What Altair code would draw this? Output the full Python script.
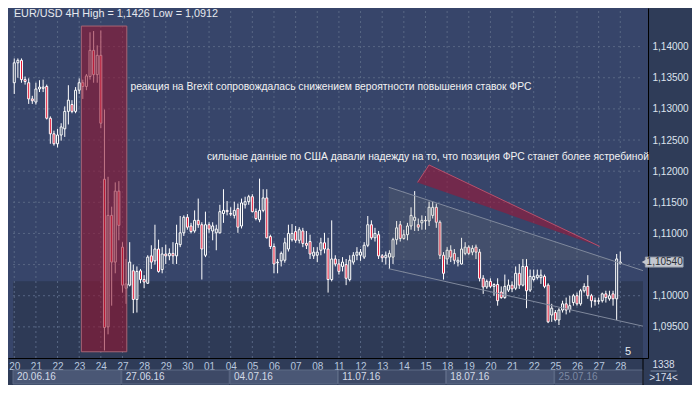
import altair as alt
import pandas as pd

# ---------------- data ----------------
DAY_LABELS = ['20', '21', '22', '23', '24', '27', '28', '29', '30', '01', '04', '05', '06', '07', '08',
              '11', '12', '13', '14', '15', '18', '19', '20', '21', '22', '25', '26', '27', '28']
WEEK_LABELS = ['20.06.16', '27.06.16', '04.07.16', '11.07.16', '18.07.16', '25.07.16']
WEEK_START = [-0.35, 29.8, 59.8, 89.8, 119.8, 149.8]
WEEK_END = [29.6, 59.6, 89.6, 119.6, 149.6, 174.3]
WEEK_SHADE = ['#4a5775', '#3d4966', '#4a5775', '#3d4966', '#4a5775', '#3d4966']
WEEK_TEXT = ['#d3dae6', '#d3dae6', '#d3dae6', '#d3dae6', '#d3dae6', '#7c88a2']
PRICE_TICKS = [1.095, 1.100, 1.105, 1.110, 1.115, 1.120, 1.125, 1.130, 1.135, 1.140]

OPEN = [1.1342, 1.1374, 1.1378, 1.1347, 1.1342, 1.1316,
        1.1311, 1.1332, 1.1333, 1.1336, 1.1285, 1.1260,
        1.1244, 1.1258, 1.1268, 1.1296, 1.1307, 1.1296,
        1.1330, 1.1342, 1.1336, 1.1352, 1.1394, 1.1355,
        1.1386, 1.1187, 1.0950, 1.1129, 1.1054, 1.1168,
        1.1078, 1.1012, 1.1017, 1.1040, 1.0994, 1.1040,
        1.1026, 1.1020, 1.1064, 1.1056, 1.1075, 1.1042,
        1.1067, 1.1064, 1.1068, 1.1064, 1.1082, 1.1101,
        1.1126, 1.1112, 1.1104, 1.1121, 1.1114, 1.1065,
        1.1114, 1.1104, 1.1101, 1.1101, 1.1132, 1.1137,
        1.1132, 1.1129, 1.1140, 1.1112, 1.1146, 1.1151,
        1.1159, 1.1135, 1.1122, 1.1137, 1.1157, 1.1095,
        1.1079, 1.1053, 1.1056, 1.1057, 1.1075, 1.1090,
        1.1103, 1.1089, 1.1104, 1.1084, 1.1087, 1.1064,
        1.1065, 1.1073, 1.1085, 1.1075, 1.1026, 1.1059,
        1.1051, 1.1047, 1.1050, 1.1026, 1.1054, 1.1065,
        1.1065, 1.1062, 1.1081, 1.1114, 1.1093, 1.1098,
        1.1064, 1.1061, 1.1062, 1.1062, 1.1090, 1.1114,
        1.1092, 1.1098, 1.1112, 1.1121, 1.1114, 1.1117,
        1.1121, 1.1120, 1.1129, 1.1142, 1.1118, 1.1065,
        1.1059, 1.1073, 1.1068, 1.1054, 1.1051, 1.1068,
        1.1078, 1.1070, 1.1078, 1.1070, 1.1028, 1.1014,
        1.1023, 1.1015, 1.1018, 1.1006, 1.0997, 1.1009,
        1.1017, 1.1012, 1.1036, 1.1017, 1.1047, 1.1009,
        1.1026, 1.1029, 1.1029, 1.1031, 1.1017, 1.0969,
        1.0973, 1.0961, 1.0977, 1.0987, 1.0978, 1.0989,
        1.1000, 1.0987, 1.1008, 1.1015, 1.1000, 1.0992,
        1.0991, 1.0992, 1.1003, 1.0995, 1.1003, 1.0995,
        1.1052]
HIGH = [1.1381, 1.1381, 1.1381, 1.1352, 1.1349, 1.1321,
        1.1342, 1.1346, 1.1347, 1.1339, 1.1288, 1.1265,
        1.1268, 1.1277, 1.1304, 1.1338, 1.1314, 1.1335,
        1.1349, 1.1347, 1.1356, 1.1423, 1.1425, 1.1402,
        1.1426, 1.1299, 1.1191, 1.1143, 1.1182, 1.1184,
        1.1086, 1.1059, 1.1086, 1.1050, 1.1047, 1.1043,
        1.1033, 1.1065, 1.1081, 1.1114, 1.1090, 1.1078,
        1.1082, 1.1076, 1.1086, 1.1114, 1.1128, 1.1129,
        1.1131, 1.1117, 1.1137, 1.1156, 1.1118, 1.1135,
        1.1118, 1.1118, 1.1114, 1.1146, 1.1171, 1.1152,
        1.1142, 1.1151, 1.1148, 1.1156, 1.1159, 1.1162,
        1.1163, 1.1140, 1.1188, 1.1171, 1.1171, 1.1098,
        1.1084, 1.1059, 1.1071, 1.1093, 1.1114, 1.1115,
        1.1112, 1.1110, 1.1109, 1.1104, 1.1098, 1.1078,
        1.1078, 1.1093, 1.1101, 1.1093, 1.1121, 1.1065,
        1.1059, 1.1062, 1.1059, 1.1065, 1.1070, 1.1078,
        1.1075, 1.1086, 1.1128, 1.1121, 1.1109, 1.1104,
        1.1067, 1.1071, 1.1073, 1.1093, 1.1120, 1.1120,
        1.1106, 1.1117, 1.1142, 1.1168, 1.1124, 1.1129,
        1.1128, 1.1151, 1.1151, 1.1148, 1.1121, 1.1070,
        1.1078, 1.1081, 1.1075, 1.1062, 1.1093, 1.1086,
        1.1081, 1.1081, 1.1082, 1.1075, 1.1033, 1.1026,
        1.1028, 1.1020, 1.1028, 1.1015, 1.1034, 1.1026,
        1.1023, 1.1047, 1.1051, 1.1059, 1.1059, 1.1042,
        1.1042, 1.1042, 1.1042, 1.1034, 1.1020, 1.0987,
        1.0977, 1.0980, 1.0992, 1.0997, 1.1000, 1.1003,
        1.1005, 1.1011, 1.1020, 1.1033, 1.1003, 1.0997,
        1.0997, 1.1005, 1.1008, 1.1008, 1.1008, 1.1067,
        1.1071]
LOW = [1.1324, 1.1350, 1.1342, 1.1339, 1.1308, 1.1308,
       1.1307, 1.1327, 1.1327, 1.1283, 1.1244, 1.1241,
       1.1238, 1.1249, 1.1255, 1.1275, 1.1293, 1.1293,
       1.1324, 1.1316, 1.1330, 1.1347, 1.1342, 1.1342,
       1.1269, 1.0912, 1.0938, 1.0984, 1.1036, 1.1089,
       1.1005, 1.0987, 1.1015, 1.0972, 1.0973, 1.1020,
       1.1012, 1.1019, 1.1043, 1.1050, 1.1037, 1.1036,
       1.1051, 1.1057, 1.1051, 1.1051, 1.1078, 1.1096,
       1.1106, 1.1100, 1.1101, 1.1109, 1.1026, 1.1062,
       1.1101, 1.1089, 1.1073, 1.1100, 1.1117, 1.1129,
       1.1128, 1.1124, 1.1101, 1.1108, 1.1140, 1.1146,
       1.1134, 1.1121, 1.1118, 1.1134, 1.1092, 1.1075,
       1.1036, 1.1036, 1.1047, 1.1053, 1.1071, 1.1087,
       1.1085, 1.1084, 1.1078, 1.1075, 1.1059, 1.1059,
       1.1054, 1.1065, 1.1068, 1.1005, 1.1023, 1.1047,
       1.1034, 1.1039, 1.1017, 1.1023, 1.1050, 1.1057,
       1.1056, 1.1059, 1.1078, 1.1090, 1.1087, 1.1059,
       1.1054, 1.1050, 1.1043, 1.1051, 1.1082, 1.1087,
       1.1090, 1.1089, 1.1106, 1.1104, 1.1104, 1.1106,
       1.1106, 1.1112, 1.1124, 1.1109, 1.1059, 1.1026,
       1.1050, 1.1054, 1.1051, 1.1047, 1.1050, 1.1065,
       1.1065, 1.1065, 1.1059, 1.1023, 1.1003, 1.1011,
       1.1012, 1.1000, 1.0984, 1.0995, 1.0995, 1.1006,
       1.1006, 1.1009, 1.1011, 1.1015, 1.0980, 1.1006,
       1.1023, 1.1026, 1.1019, 1.1012, 1.0956, 1.0958,
       1.0959, 1.0953, 1.0973, 1.0970, 1.0973, 1.0984,
       1.0984, 1.0984, 1.1005, 1.0995, 1.0981, 1.0984,
       1.0986, 1.0989, 1.0989, 1.0992, 1.0984, 1.0961,
       1.1050]
CLOSE = [1.1374, 1.1378, 1.1347, 1.1344, 1.1316, 1.1313,
         1.1332, 1.1335, 1.1335, 1.1285, 1.1260, 1.1244,
         1.1258, 1.1271, 1.1296, 1.1314, 1.1296, 1.1330,
         1.1342, 1.1336, 1.1353, 1.1394, 1.1355, 1.1386,
         1.1277, 1.0949, 1.1129, 1.1054, 1.1168, 1.1113,
         1.1017, 1.1019, 1.1054, 1.0994, 1.1039, 1.1026,
         1.1022, 1.1062, 1.1054, 1.1075, 1.1039, 1.1067,
         1.1064, 1.1068, 1.1064, 1.1084, 1.1101, 1.1126,
         1.1110, 1.1103, 1.1121, 1.1114, 1.1075, 1.1114,
         1.1107, 1.1112, 1.1107, 1.1135, 1.1137, 1.1135,
         1.1131, 1.1137, 1.1110, 1.1149, 1.1151, 1.1159,
         1.1135, 1.1124, 1.1137, 1.1157, 1.1093, 1.1079,
         1.1051, 1.1054, 1.1068, 1.1085, 1.1100, 1.1100,
         1.1089, 1.1106, 1.1084, 1.1081, 1.1067, 1.1070,
         1.1070, 1.1085, 1.1075, 1.1026, 1.1059, 1.1051,
         1.1039, 1.1054, 1.1028, 1.1057, 1.1065, 1.1070,
         1.1070, 1.1081, 1.1114, 1.1093, 1.1100, 1.1064,
         1.1061, 1.1065, 1.1068, 1.1090, 1.1109, 1.1092,
         1.1098, 1.1112, 1.1129, 1.1126, 1.1110, 1.1121,
         1.1120, 1.1142, 1.1142, 1.1118, 1.1065, 1.1036,
         1.1073, 1.1062, 1.1057, 1.1057, 1.1075, 1.1078,
         1.1068, 1.1076, 1.1070, 1.1028, 1.1014, 1.1023,
         1.1015, 1.1018, 1.0992, 1.0997, 1.1015, 1.1017,
         1.1011, 1.1036, 1.1017, 1.1047, 1.1008, 1.1031,
         1.1031, 1.1033, 1.1033, 1.1015, 1.0958, 1.0980,
         1.0961, 1.0977, 1.0987, 1.0977, 1.0984, 1.1000,
         1.0987, 1.1008, 1.1015, 1.1000, 1.0992, 1.0991,
         1.0992, 1.1003, 1.0997, 1.1000, 1.0995, 1.1059,
         1.1054]

LAST_PRICE = 1.1054
LAST_PRICE_TEXT = '1,10540'
HEADER = 'EUR/USD 4H High = 1,1426 Low = 1,0912'
NOTE_BREXIT = 'реакция на Brexit сопровождалась снижением вероятности повышения ставок ФРС'
NOTE_USA = 'сильные данные по США давали надежду на то, что позиция ФРС станет более ястребиной'
BARS_TOTAL = '1338'
BARS_VISIBLE = '>174<'
SHIFT_LABEL = '5'

# annotation geometry (bar index, price)
BREXIT_BOX = dict(x=18.6, x2=31.2, y=1.0910, y2=1.1433)
GRAY_TRI_X = [103.8, 165.5]
GRAY_TRI_TOP = [1.11742, 1.10574]
GRAY_TRI_BOTTOM = [1.10574, 1.10574]
RED_X = [111.8, 115.0, 162.3]
RED_TOP = [1.1182, 1.1210, 1.10792]
RED_BOTTOM = [1.1182, 1.11755, 1.10792]
CHANNEL_X = [103.8, 174.3]
CHANNEL_UPPER = [1.11742, 1.10403]
CHANNEL_LOWER = [1.10434, 1.09511]

X_DOMAIN = [-0.35, 174.3]
Y_DOMAIN = [1.0900, 1.1462]
W, H = 640, 350
FONT = 'Liberation Sans, Arial, sans-serif'

# ---------------- build ----------------
n = len(OPEN)
candles = pd.DataFrame({
    'x': list(range(n)), 'open': OPEN, 'high': HIGH, 'low': LOW, 'close': CLOSE,
})
candles['fillc'] = ['#35435f' if c >= o else '#e3102f' for o, c in zip(OPEN, CLOSE)]

xs = alt.Scale(domain=X_DOMAIN, nice=False, zero=False)
ys = alt.Scale(domain=Y_DOMAIN, nice=False, zero=False)
label_js = '[' + ','.join("'%s'" % d for d in DAY_LABELS) + ']'
x_axis = alt.Axis(values=[6 * k for k in range(len(DAY_LABELS))],
                  labelExpr=label_js + '[round(datum.value/6)]',
                  grid=False, ticks=False, domainColor='#000000', domainWidth=1,
                  labelColor='#b9c8df', labelFontSize=10, labelFont=FONT,
                  labelPadding=3, labelFlush=False, labelOverlap=False, title=None)
y_axis = alt.Axis(orient='right', values=PRICE_TICKS,
                  labelExpr="abs(datum.value-1.105)<0.000001 ? '' : replace(format(datum.value, '.5f'), '.', ',')",
                  grid=False, ticks=False, domainColor='#000000', domainWidth=1,
                  labelColor='#dde3ee', labelFontSize=10, labelFont=FONT,
                  labelPadding=4, labelOverlap=False, title=None)


def X(f='x'):
    return alt.X(f + ':Q', scale=xs, axis=x_axis)


def Y(f='y'):
    return alt.Y(f + ':Q', scale=ys, axis=y_axis)


band = alt.Chart(pd.DataFrame({'x': [X_DOMAIN[0]], 'x2': [X_DOMAIN[1]], 'y': [Y_DOMAIN[0]], 'y2': [1.10232]})).mark_rect(
    color='#2e3a56').encode(x=X(), x2='x2:Q', y=Y(), y2='y2:Q')

grid_x = alt.Chart(pd.DataFrame({'x': [6 * k for k in range(len(DAY_LABELS))],
                                 'y': Y_DOMAIN[0], 'y2': Y_DOMAIN[1]})).mark_rule(
    color='#586784', strokeWidth=1, strokeDash=[2, 3]).encode(x=X(), y=Y(), y2='y2:Q')
grid_y = alt.Chart(pd.DataFrame({'y': PRICE_TICKS, 'x': X_DOMAIN[0], 'x2': X_DOMAIN[1]})).mark_rule(
    color='#586784', strokeWidth=1, strokeDash=[2, 3]).encode(x=X(), x2='x2:Q', y=Y())

wicks = alt.Chart(candles).mark_rule(color='#ffffff', strokeWidth=1).encode(
    x=X(), y=Y('low'), y2='high:Q')
bodies = alt.Chart(candles).mark_bar(size=2, stroke='#ffffff', strokeWidth=1).encode(
    x=X(), y=Y('open'), y2='close:Q', fill=alt.Fill('fillc:N', scale=None))

gray_tri = alt.Chart(pd.DataFrame({'x': GRAY_TRI_X, 'y': GRAY_TRI_TOP, 'y2': GRAY_TRI_BOTTOM})).mark_area(
    color='#8f8c7c', opacity=0.15, orient='vertical').encode(x=X(), y=Y(), y2='y2:Q')

chan = pd.DataFrame({'x': CHANNEL_X * 2, 'y': CHANNEL_UPPER + CHANNEL_LOWER,
                     'line': ['u', 'u', 'l', 'l']})
channel = alt.Chart(chan).mark_line(color='#7f889c', strokeWidth=1).encode(
    x=X(), y=Y(), detail='line:N')

red_wedge = alt.Chart(pd.DataFrame({'x': RED_X, 'y': RED_TOP, 'y2': RED_BOTTOM})).mark_area(
    color='#9a1838', opacity=0.6, orient='vertical', line={'color': '#b8506c', 'strokeWidth': 1}).encode(
    x=X(), y=Y(), y2='y2:Q')

brexit = alt.Chart(pd.DataFrame({k: [v] for k, v in BREXIT_BOX.items()})).mark_rect(
    fill='#961530', fillOpacity=0.58, stroke='#a86474', strokeWidth=1).encode(
    x=X(), x2='x2:Q', y=Y(), y2='y2:Q')

notes = alt.Chart(pd.DataFrame({'x': [32.2, 53.4], 'y': [1.13346, 1.12225],
                                't': [NOTE_BREXIT, NOTE_USA]})).mark_text(
    align='left', baseline='middle', font=FONT, fontSize=10.3, color='#f2f2f2').encode(
    x=X(), y=Y(), text='t:N')
header = alt.Chart(pd.DataFrame({'x': [-0.1], 'y': [1.1452], 't': [HEADER]})).mark_text(
    align='left', baseline='middle', font=FONT, fontSize=10.8, color='#e6e9ef').encode(
    x=X(), y=Y(), text='t:N')

shift = alt.Chart(pd.DataFrame({'x': [169.3], 'y': [1.0909], 't': [SHIFT_LABEL]})).mark_text(
    align='left', baseline='middle', font=FONT, fontSize=11, color='#e8ecf2').encode(
    x=X(), y=Y(), text='t:N')

# bottom week boxes
weeks = pd.DataFrame({'x': WEEK_START, 'x2': WEEK_END, 'y': 1.08807, 'y2': 1.08583,
                      't': WEEK_LABELS, 'tx': [s + 1.1 for s in WEEK_START], 'yt': 1.08695,
                      'shade': WEEK_SHADE, 'tc': WEEK_TEXT})
week_boxes = alt.Chart(weeks).mark_rect(stroke='#5d6a86', strokeWidth=1).encode(
    x=X(), x2='x2:Q', y=Y(), y2='y2:Q', fill=alt.Fill('shade:N', scale=None))
week_text = alt.Chart(weeks).mark_text(
    align='left', baseline='middle', font=FONT, fontSize=10).encode(
    x=alt.X('tx:Q', scale=xs, axis=x_axis), y=alt.Y('yt:Q', scale=ys, axis=y_axis), text='t:N',
    color=alt.Color('tc:N', scale=None))

axis_ext = alt.Chart(pd.DataFrame({'x': [X_DOMAIN[1]], 'y': [Y_DOMAIN[0]], 'y2': [1.0856]})).mark_rule(
    color='#000000', strokeWidth=1).encode(x=X(), y=Y(), y2='y2:Q')
counters = alt.Chart(pd.DataFrame({'x': [180.0, 180.0], 'y': [1.08890, 1.08679],
                                   't': [BARS_TOTAL, BARS_VISIBLE]})).mark_text(
    align='center', baseline='middle', font=FONT, fontSize=10, color='#d8deea').encode(
    x=X(), y=Y(), text='t:N')
counter_sep = alt.Chart(pd.DataFrame({'x': [176.4], 'x2': [183.6], 'y': [1.08791]})).mark_rule(
    color='#7f8ca6', strokeWidth=1).encode(x=X(), x2='x2:Q', y=Y())

# current price tag
tag = pd.DataFrame({'x': [174.95], 'x2': [185.4], 'y': [LAST_PRICE - 0.0008], 'y2': [LAST_PRICE + 0.0008],
                    'xa': [174.75], 'ya': [LAST_PRICE], 'xt': [180.3], 't': [LAST_PRICE_TEXT]})
tag_box = alt.Chart(tag).mark_rect(fill='#c3c7cf', stroke='#9aa1ad', strokeWidth=1).encode(
    x=X(), x2='x2:Q', y=Y(), y2='y2:Q')
tag_arrow = alt.Chart(tag).mark_point(shape='triangle-left', filled=True, size=45, color='#c3c7cf',
                                      opacity=1).encode(
    x=alt.X('xa:Q', scale=xs, axis=x_axis), y=alt.Y('ya:Q', scale=ys, axis=y_axis))
tag_text = alt.Chart(tag).mark_text(align='center', baseline='middle', font=FONT, fontSize=10,
                                    color='#2a2e36').encode(
    x=alt.X('xt:Q', scale=xs, axis=x_axis), y=alt.Y('ya:Q', scale=ys, axis=y_axis), text='t:N')

chart = alt.layer(
    band, grid_x, grid_y, wicks, bodies, gray_tri, channel, red_wedge, brexit,
    notes, header, shift, week_boxes, week_text, axis_ext, counter_sep, counters,
    tag_box, tag_arrow, tag_text
).properties(
    width=W, height=H,
    autosize=alt.AutoSizeParams(type='none'),
    padding={'left': 0, 'top': 0, 'right': 44, 'bottom': 27},
    background='#2f3c58'
).configure_view(fill='#37456a', strokeWidth=0)

chart.save('out.html', embed_options={'renderer': 'svg', 'actions': False})
